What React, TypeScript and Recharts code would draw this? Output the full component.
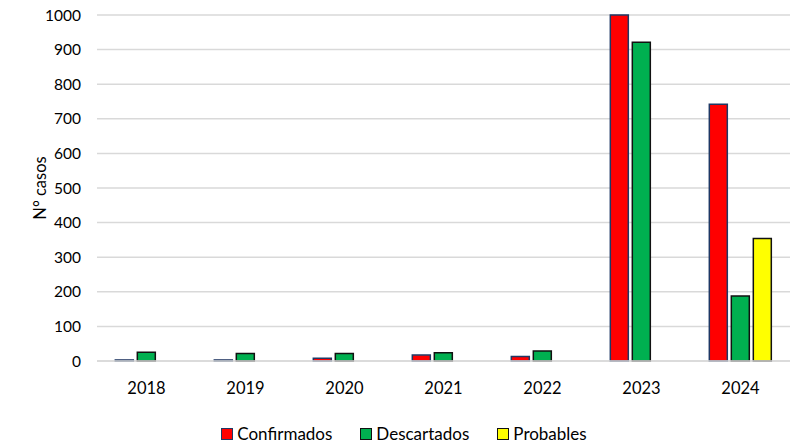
import React from "react";
import {
	Bar,
	BarChart,
	CartesianGrid,
	Legend,
	XAxis,
	YAxis,
} from "recharts";

const years = ["2018", "2019", "2020", "2021", "2022", "2023", "2024"];
const confirmados = [3, 3, 8, 17, 13, 1000, 742];
const descartados = [25, 22, 22, 24, 29, 921, 188];
const probables: (number | null)[] = [null, null, null, null, null, null, 354];
const yTicks = [0, 100, 200, 300, 400, 500, 600, 700, 800, 900, 1000];

const series = [
	{ key: "confirmados", name: "Confirmados", fill: "#ff0000", stroke: "#1f3864" },
	{ key: "descartados", name: "Descartados", fill: "#00b050", stroke: "#111111" },
	{ key: "probables", name: "Probables", fill: "#ffff00", stroke: "#111111" },
];

const data = years.map((year, i) => ({
	year,
	confirmados: confirmados[i],
	descartados: descartados[i],
	probables: probables[i],
}));

const font = "Lato, 'Noto Sans', sans-serif";

const renderLegend = () => (
	<div
		style={{
			display: "flex",
			justifyContent: "center",
			gap: 28,
			fontFamily: font,
			fontSize: 17,
			color: "#000",
			paddingLeft: 16,
		}}
	>
		{series.map((s) => (
			<div key={s.key} style={{ display: "flex", alignItems: "center", gap: 4 }}>
				<span
					style={{
						display: "inline-block",
						width: 10,
						height: 10,
						background: s.fill,
						border: `1.5px solid ${s.stroke}`,
					}}
				/>
				<span>{s.name}</span>
			</div>
		))}
	</div>
);

export default function App() {
	return (
		<div style={{ position: "absolute", left: 0, top: 0, background: "#fff" }}>
			<BarChart
				width={792}
				height={445}
				data={data}
				margin={{ top: 15, right: 2, left: 0, bottom: 0 }}
				barCategoryGap="18.5%"
				barGap={4}
			>
				<CartesianGrid vertical={false} stroke="#d9d9d9" strokeWidth={1.5} />
				<XAxis
					dataKey="year"
					axisLine={{ stroke: "#d9d9d9", strokeWidth: 1.5 }}
					tickLine={false}
					tickSize={0}
					tickMargin={21}
					height={63}
					tick={{ fontFamily: font, fontSize: 16.5, fill: "#000" }}
				/>
				<YAxis
					domain={[0, 1000]}
					ticks={yTicks}
					axisLine={false}
					tickLine={false}
					tickSize={0}
					tickMargin={16}
					width={97}
					tick={{ fontFamily: font, fontSize: 15.5, fill: "#000" }}
					label={{
						value: "N° casos",
						angle: -90,
						position: "insideLeft",
						offset: 40,
						style: { fontFamily: font, fontSize: 16.5, fill: "#000", textAnchor: "middle" },
					}}
				/>
				{series.map((s) => (
					<Bar
						key={s.key}
						dataKey={s.key}
						name={s.name}
						fill={s.fill}
						stroke={s.stroke}
						strokeWidth={1.5}
						isAnimationActive={false}
					/>
				))}
				<Legend
					content={renderLegend}
					wrapperStyle={{ position: "absolute", top: 423, left: 0, width: 792 }}
				/>
			</BarChart>
		</div>
	);
}
